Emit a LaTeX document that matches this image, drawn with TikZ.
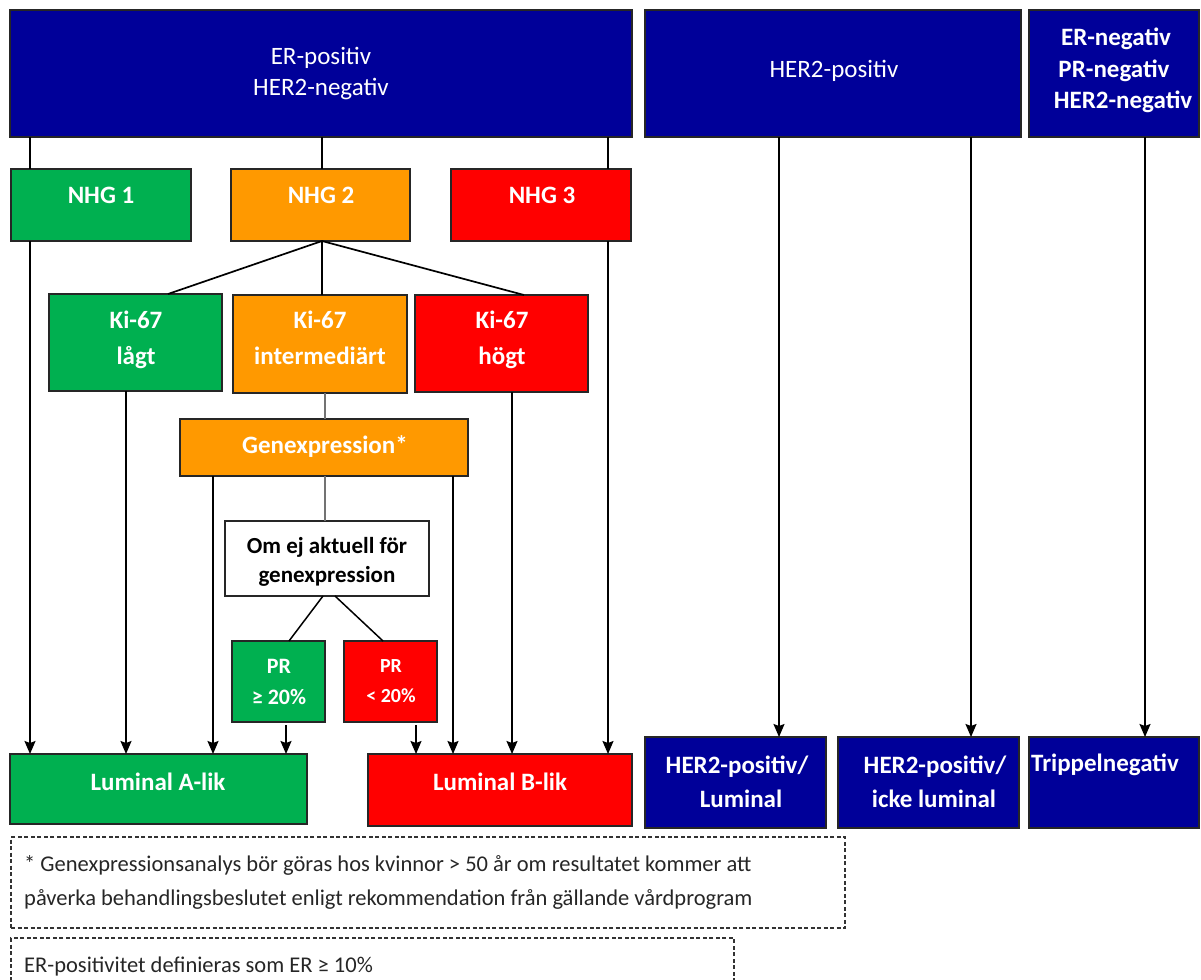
\documentclass[tikz,border=0pt]{standalone}
\usepackage{fontspec}
\setmainfont{Carlito}
\usetikzlibrary{arrows.meta}
\definecolor{dblue}{RGB}{0,0,153}
\definecolor{lgreen}{RGB}{0,176,80}
\definecolor{lorange}{RGB}{255,153,0}
\definecolor{lred}{RGB}{255,0,0}
\newcommand\mkbox[6]{\node[#6, minimum width={#4pt-#2pt}, minimum height={#5pt-#3pt}] (#1) at ({(#2+#4)/2},{(#3+#5)/2}) {};}
\newcommand\tl[4]{\node[#1, anchor=base] (#2) at (#3) {#4};}
\tikzset{
  box/.style={rectangle, draw=black!85, line width=1.6pt, inner sep=0pt, outer sep=0pt},
  dbox/.style={rectangle, draw=black!80, line width=1.3pt, dash pattern=on 4pt off 2.5pt, inner sep=0pt, outer sep=0pt},
  wb/.style={text=white, font=\fontsize{25}{30}\selectfont\bfseries, inner sep=0pt},
  wr/.style={text=white, font=\fontsize{25}{30}\selectfont, inner sep=0pt},
  kb/.style={text=black, font=\fontsize{23}{28}\selectfont\bfseries, inner sep=0pt},
  note/.style={text=black!85, font=\fontsize{22.5}{27}\selectfont, inner sep=0pt, anchor=base west},
  conn/.style={line width=1.7pt, black},
  arr/.style={conn, -{Stealth[length=13pt,width=11pt,inset=2pt]}},
  thin/.style={line width=1.1pt, black!55}
}
\begin{document}
\begin{tikzpicture}[x=1pt,y=-1pt]
\useasboundingbox (0,0) rectangle (1201,979);
% top boxes
\mkbox{er}{10}{10}{632}{137}{box, fill=dblue}
\mkbox{her}{645}{10}{1021}{137}{box, fill=dblue}
\mkbox{ern}{1029}{10}{1199}{137}{box, fill=dblue}
% NHG
\mkbox{n1}{11}{169}{191}{241}{box, fill=lgreen}
\mkbox{n2}{231}{169}{410}{241}{box, fill=lorange}
\mkbox{n3}{451}{169}{631}{241}{box, fill=lred}
% Ki-67
\mkbox{k1}{49}{294}{222}{391}{box, fill=lgreen}
\mkbox{k2}{233}{295}{407}{393}{box, fill=lorange}
\mkbox{k3}{415}{295}{588}{392}{box, fill=lred}
\mkbox{ge}{180}{419}{468}{476}{box, fill=lorange}
\mkbox{om}{225}{521}{429}{596}{box, fill=white}
\mkbox{p1}{232}{641}{325}{722}{box, fill=lgreen}
\mkbox{p2}{344}{641}{437}{722}{box, fill=lred}
% results
\mkbox{la}{10}{754}{307}{824}{box, fill=lgreen}
\mkbox{lb}{368}{754}{632}{826}{box, fill=lred}
\mkbox{hl}{645}{737}{826}{828}{box, fill=dblue}
\mkbox{hi}{838}{737}{1019}{828}{box, fill=dblue}
\mkbox{tn}{1029}{737}{1199}{828}{box, fill=dblue}
% notes
\mkbox{f1}{11}{837}{845}{928}{dbox}
\mkbox{f2}{11}{938}{734}{1000}{dbox}

% texts
\tl{wr}{t1}{321,65}{ER-positiv}
\tl{wr}{t2}{321,96}{HER2-negativ}
\tl{wr}{t3}{834,78}{HER2-positiv}
\tl{wb}{t4}{1116,46}{ER-negativ}
\tl{wb}{t5}{1114,78}{PR-negativ}
\tl{wb}{t6}{1123,109}{HER2-negativ}
\tl{wb}{t7}{101,203}{NHG 1}
\tl{wb}{t8}{321,203}{NHG 2}
\tl{wb}{t9}{542,203}{NHG 3}
\tl{wb}{t10}{136,328}{Ki-67}
\tl{wb}{t11}{136,364}{lågt}
\tl{wb}{t12}{320,328}{Ki-67}
\tl{wb}{t13}{320,364}{intermediärt}
\tl{wb}{t14}{502,328}{Ki-67}
\tl{wb}{t15}{502,364}{högt}
\tl{wb}{t16}{325,453}{Genexpression*}
\tl{kb}{t17}{327,553.5}{Om ej aktuell för}
\tl{kb}{t18}{327,582.5}{genexpression}
\tl{wb, font=\fontsize{22}{26}\selectfont\bfseries}{t19}{279,673}{PR}
\tl{wb, font=\fontsize{22}{26}\selectfont\bfseries}{t20}{279,704}{≥ 20\%}
\tl{wb, font=\fontsize{20}{24}\selectfont\bfseries}{t21}{391,672}{PR}
\tl{wb, font=\fontsize{20}{24}\selectfont\bfseries}{t22}{391,702}{< 20\%}
\tl{wb}{t23}{158,790}{Luminal A-lik}
\tl{wb}{t24}{500,790}{Luminal B-lik}
\tl{wb}{t25}{737,773}{HER2-positiv/}
\tl{wb}{t26}{741,807}{Luminal}
\tl{wb}{t27}{935,773}{HER2-positiv/}
\tl{wb}{t28}{934,807}{icke luminal}
\tl{wb}{t29}{1105,771}{Trippelnegativ}
\node[note] (t30) at (24,871) {* Genexpressionsanalys bör göras hos kvinnor > 50 år om resultatet kommer att};
\node[note] (t31) at (24,905) {påverka behandlingsbeslutet enligt rekommendation från gällande vårdprogram};
\node[note] (t32) at (24,972) {ER-positivitet definieras som ER ≥ 10\%};

% x references
\foreach \xx in {30,126,168,213,286,289,322,323,325,335,383,416,453,512,524,608,779,971,1145}
  \coordinate (x\xx) at (\xx,0);

% connectors
\draw[conn] (er.south -| x30) -- (n1.north -| x30);
\draw[conn] (er.south -| x322) -- (n2.north -| x322);
\draw[conn] (er.south -| x608) -- (n3.north -| x608);
\draw[arr] (n1.south -| x30) -- (la.north -| x30);
\draw[arr] (n3.south -| x608) -- (lb.north -| x608);
\draw[conn] (n2.south -| x322) -- (k1.north -| x168);
\draw[conn] (n2.south -| x322) -- (k2.north -| x322);
\draw[conn] (n2.south -| x322) -- (k3.north -| x524);
\draw[arr] (k1.south -| x126) -- (la.north -| x126);
\draw[arr] (k3.south -| x512) -- (lb.north -| x512);
\draw[thin] (k2.south -| x325) -- (ge.north -| x325);
\draw[thin] (ge.south -| x325) -- (om.north -| x325);
\draw[arr] (ge.south -| x213) -- (la.north -| x213);
\draw[arr] (ge.south -| x453) -- (lb.north -| x453);
\draw[conn, line width=1.5pt] (om.south -| x323) -- (p1.north -| x289);
\draw[conn, line width=1.5pt] (om.south -| x335) -- (p2.north -| x383);
\draw[arr] ([yshift=-3pt]p1.south -| x286) -- (la.north -| x286);
\draw[arr] ([yshift=-3pt]p2.south -| x416) -- (lb.north -| x416);
\draw[arr] (her.south -| x779) -- (hl.north -| x779);
\draw[arr] (her.south -| x971) -- (hi.north -| x971);
\draw[arr] (ern.south -| x1145) -- (tn.north -| x1145);
\end{tikzpicture}
\end{document}
